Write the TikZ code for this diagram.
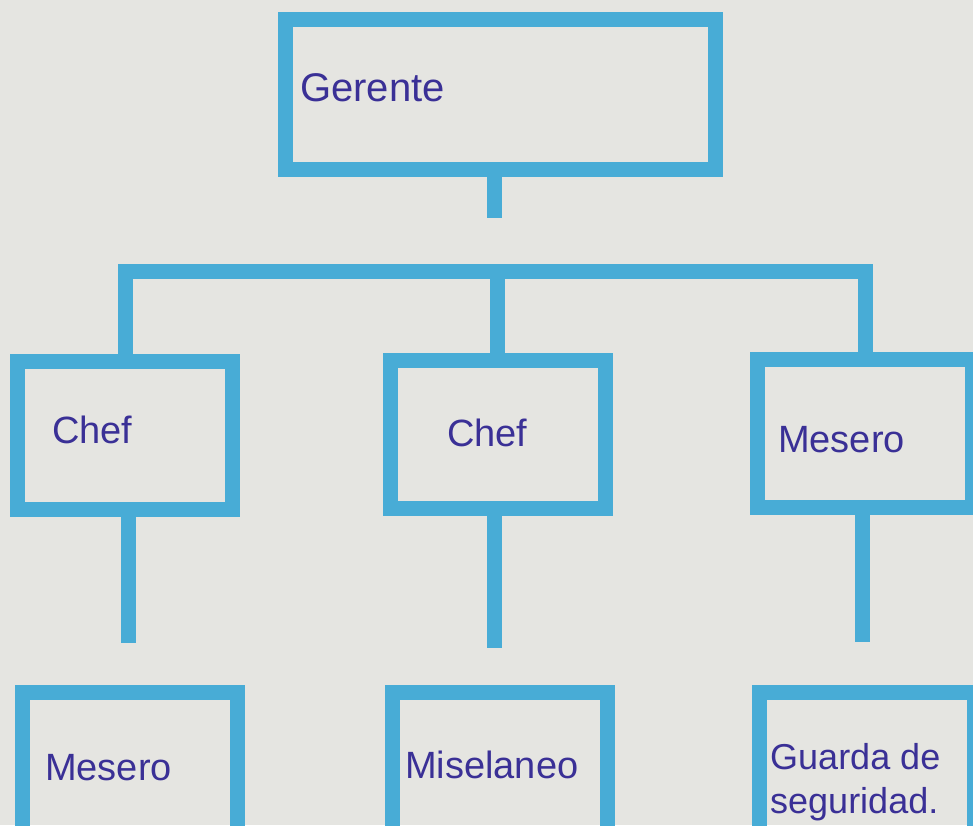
\documentclass[tikz,border=0pt]{standalone}
\usepackage{fontspec}
\setmainfont{Liberation Sans}
\definecolor{marker}{RGB}{72,172,214}
\definecolor{ink}{RGB}{58,48,150}
\definecolor{paper}{RGB}{229,229,225}

\begin{document}
\begin{tikzpicture}[x=1pt, y=-1pt,
			box/.style={draw=marker, line width=15pt, minimum width=215pt, minimum height=148pt, inner sep=0pt},
			link/.style={draw=marker, line width=15pt},
			txt/.style={text=ink, font=\fontsize{38}{45}\selectfont, anchor=west, inner sep=0pt, align=left}]
			\fill[paper] (0,0) rectangle (973,825);
			\useasboundingbox (0,0) rectangle (973,825);
			\clip (0,0) rectangle (973,825);
			
			\node[box, minimum width=430pt, minimum height=150pt] (ger) at (500.5,94.5) {};
			\node[box] (chefA) at (125,435) {};
			\node[box] (chefB) at (497.5,434) {};
			\node[box] (meseroA) at (865,433.5) {};
			\node[box, minimum height=150pt] (meseroB) at (130,767.5) {};
			\node[box, minimum height=150pt] (misc) at (500,767.5) {};
			\node[box, minimum height=150pt] (guarda) at (867,767.5) {};
			
			\coordinate (gerstub) at (494,218);
			\coordinate (bar) at (494,271);
			\draw[link] (gerstub |- ger.south) -- (gerstub);
			\draw[link] (chefA.north) |- (bar) -| (meseroA.north);
			\draw[link] (chefB.north) -- (chefB.north |- bar);
			\foreach \src/\x/\y in {chefA/128/643, chefB/494/648, meseroA/862/642}{
			  \coordinate (\src stub) at (\x,\y);
			  \draw[link] (\src stub |- \src.south) -- (\src stub);
			}
			
			\node[txt, font=\fontsize{40}{48}\selectfont] (gertxt) at (300,88) {Gerente};
			\node[txt] (chefAtxt) at (52,430) {Chef};
			\node[txt] (chefBtxt) at (447,433) {Chef};
			\node[txt] (meseroAtxt) at (778,440) {Mesero};
			\node[txt] (meseroBtxt) at (45,768) {Mesero};
			\node[txt] (misctxt) at (405,765) {Miselaneo};
			\node[txt, font=\fontsize{36}{44}\selectfont] (guardatxt) at (770,782) {Guarda de\\seguridad.};
		\end{tikzpicture}
\end{document}
